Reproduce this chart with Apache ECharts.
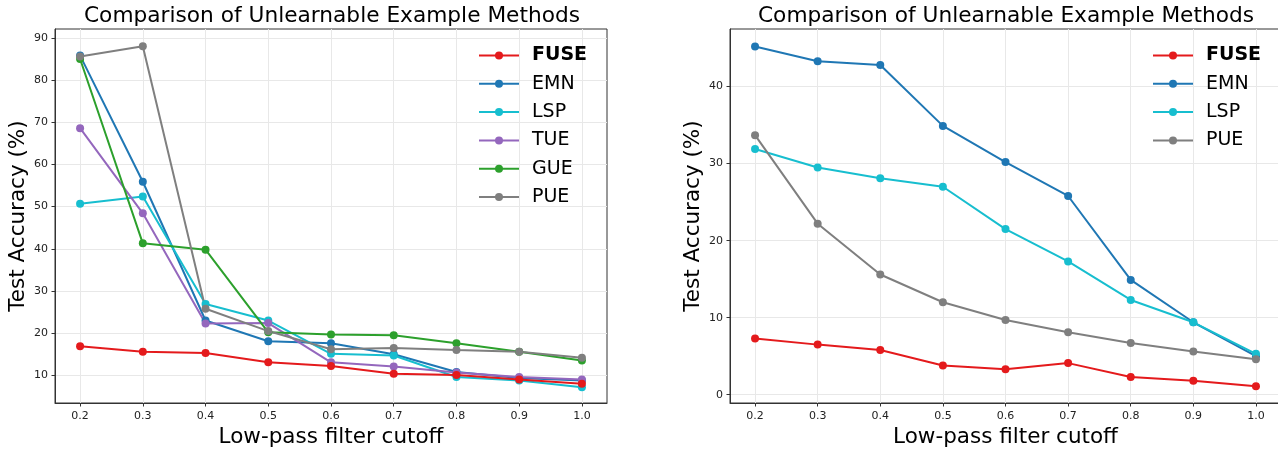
<!DOCTYPE html>
<html>
<head>
<meta charset="utf-8">
<script src="https://cdn.jsdelivr.net/npm/echarts@6/dist/echarts.min.js"></script>
<style>
  html, body { margin: 0; padding: 0; background: #fff; }
  #chart { width: 1278px; height: 449px; }
</style>
</head>
<body>
<div id="chart"></div>
<script>
const cutoffs = [0.2, 0.3, 0.4, 0.5, 0.6, 0.7, 0.8, 0.9, 1.0]

// left panel
const fuseL = [16.9, 15.6, 15.3, 13.1, 12.2, 10.4, 10.1, 9.0, 8.0]
const emnL = [85.8, 55.9, 23.0, 18.1, 17.6, 15.0, 10.8, 9.4, 8.8]
const lspL = [50.7, 52.4, 26.9, 23.0, 15.1, 14.7, 9.6, 8.8, 7.2]
const tueL = [68.6, 48.4, 22.3, 22.4, 13.1, 12.1, 10.7, 9.6, 9.0]
const gueL = [85.0, 41.3, 39.8, 20.2, 19.7, 19.5, 17.6, 15.6, 13.5]
const pueL = [85.6, 88.0, 25.8, 20.5, 16.2, 16.5, 16.0, 15.6, 14.2]

// right panel
const fuseR = [7.3, 6.5, 5.8, 3.8, 3.3, 4.1, 2.3, 1.8, 1.1]
const emnR = [45.2, 43.3, 42.8, 34.9, 30.2, 25.8, 14.9, 9.4, 5.0]
const lspR = [31.9, 29.5, 28.1, 27.0, 21.5, 17.3, 12.3, 9.4, 5.3]
const pueR = [33.7, 22.2, 15.6, 12.0, 9.7, 8.1, 6.7, 5.6, 4.6]

const yTicksL = [10, 20, 30, 40, 50, 60, 70, 80, 90]
const yTicksR = [0, 10, 20, 30, 40]

const colors = {
  FUSE: '#e41a1c', EMN: '#1f77b4', LSP: '#17becf',
  TUE: '#9467bd', GUE: '#2ca02c', PUE: '#7f7f7f'
}

const font = 'DejaVu Sans'
const titleText = 'Comparison of Unlearnable Example Methods'

function line(name, vals, idx) {
  return {
    name: name,
    type: 'line',
    xAxisIndex: idx,
    yAxisIndex: idx,
    data: cutoffs.map((c, i) => [c, vals[i]]),
    symbol: 'circle',
    symbolSize: 8,
    showSymbol: true,
    lineStyle: { width: 2, color: colors[name] },
    itemStyle: { color: colors[name] },
    z: name === 'FUSE' ? 5 : 2,
    animation: false
  }
}

function xAxis(idx) {
  return {
    type: 'value', gridIndex: idx, min: 0.16, max: 1.04,
    name: 'Low-pass filter cutoff', nameLocation: 'middle', nameGap: 22,
    nameTextStyle: { fontFamily: font, fontSize: 21.5, color: '#000' },
    axisLine: { show: true, onZero: false, lineStyle: { color: '#333', width: 1 } },
    axisTick: { show: true, length: 3.5, customValues: cutoffs, lineStyle: { color: '#333' } },
    axisLabel: { customValues: cutoffs, margin: 8, fontFamily: font, fontSize: 11, color: '#222',
      formatter: v => v.toFixed(1) },
    splitLine: { show: true, lineStyle: { color: '#e8e8e8', width: 1 } }
  }
}

function yAxis(idx, min, max, ticks) {
  return {
    type: 'value', gridIndex: idx, min: min, max: max,
    name: 'Test Accuracy (%)', nameLocation: 'middle', nameGap: 26,
    nameTextStyle: { fontFamily: font, fontSize: 21.5, color: '#000' },
    axisLine: { show: true, lineStyle: { color: '#333', width: 1 } },
    axisTick: { show: true, length: 3.5, customValues: ticks, lineStyle: { color: '#333' } },
    axisLabel: { customValues: ticks, margin: 7, fontFamily: font, fontSize: 11, color: '#222' },
    splitLine: { show: true, lineStyle: { color: '#e8e8e8', width: 1 } }
  }
}

function legend(left, names) {
  return {
    orient: 'vertical', left: left, top: 41,
    data: names,
    itemWidth: 40, itemHeight: 10, itemGap: 9.3,
    textStyle: { fontFamily: font, fontSize: 19, color: '#000', padding: [0, 0, 0, 8],
      rich: { b: { fontFamily: font, fontSize: 19, fontWeight: 'bold', color: '#000' } } },
    formatter: name => name === 'FUSE' ? '{b|FUSE}' : name
  }
}

const chart = echarts.init(document.getElementById('chart'), null, { renderer: 'canvas' })
chart.setOption({
  animation: false,
  backgroundColor: '#fff',
  title: [
    { text: titleText, left: 327, top: 0, textAlign: 'center',
      textStyle: { fontFamily: font, fontSize: 21.7, fontWeight: 'normal', color: '#000' } },
    { text: titleText, left: 1001, top: 0, textAlign: 'center',
      textStyle: { fontFamily: font, fontSize: 21.7, fontWeight: 'normal', color: '#000' } }
  ],
  legend: [
    legend(473, ['FUSE', 'EMN', 'LSP', 'TUE', 'GUE', 'PUE']),
    legend(1147, ['FUSE', 'EMN', 'LSP', 'PUE'])
  ],
  grid: [
    { left: 55, top: 29, width: 552, height: 374, outerBoundsMode: 'none', show: true,
      borderColor: '#333', borderWidth: 1, backgroundColor: 'transparent' },
    { left: 730, top: 29, width: 551, height: 374, outerBoundsMode: 'none', show: true,
      borderColor: '#333', borderWidth: 1, backgroundColor: 'transparent' }
  ],
  xAxis: [xAxis(0), xAxis(1)],
  yAxis: [yAxis(0, 3.45, 92.1, yTicksL), yAxis(1, -1.08, 47.48, yTicksR)],
  series: [
    line('EMN', emnL, 0), line('LSP', lspL, 0), line('TUE', tueL, 0),
    line('GUE', gueL, 0), line('PUE', pueL, 0), line('FUSE', fuseL, 0),
    line('EMN', emnR, 1), line('LSP', lspR, 1), line('PUE', pueR, 1),
    line('FUSE', fuseR, 1)
  ]
})
</script>
</body>
</html>
